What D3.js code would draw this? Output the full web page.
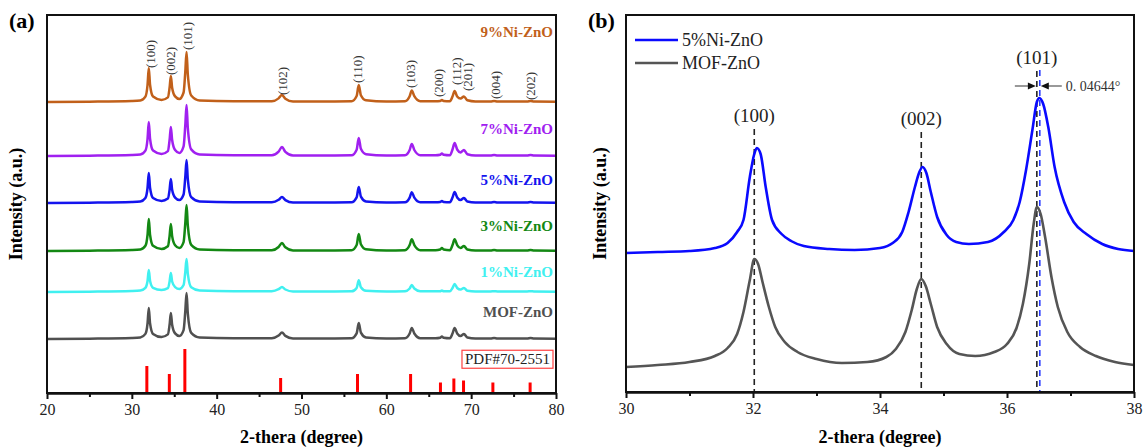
<!DOCTYPE html>
<html>
<head>
<meta charset="utf-8">
<script src="https://cdn.jsdelivr.net/npm/d3@7"></script>
<style>
  body { margin: 0; background: #fff; }
  svg { display: block; }
</style>
</head>
<body>
<div id="chart"></div>
<script>
/* ---------- data ---------- */

// Panel (a): 2-theta grid shared by every pattern
const thetaA = [20, 25, 30, 31.0, 31.6, 31.85, 32.0, 32.15, 32.5, 33.5,
  34.25, 34.45, 34.6, 34.75, 35.1, 35.6, 36.1, 36.3, 36.45, 36.6, 37.0, 38,
  42, 46.5, 47.3, 47.7, 48.1, 49, 53, 55.9, 56.5, 56.75, 57.0, 57.6, 60,
  62.2, 62.75, 63.0, 63.3, 64, 65.8, 66.35, 66.55, 66.75, 67.5, 67.8, 68.05,
  68.35, 68.75, 69.15, 69.55, 70.5, 72.3, 72.7, 73.1, 76.6, 77.0, 77.4, 80];

const seriesNamesA = ['9%Ni-ZnO', '7%Ni-ZnO', '5%Ni-ZnO', '3%Ni-ZnO', '1%Ni-ZnO', 'MOF-ZnO'];
// vertical stacking offset of each pattern (a.u.)
const offsetA = [291, 237, 190, 142, 101, 54];

const int9 = [0, 0.3, 1, 1.5, 5.4, 17, 34, 17, 5.4, 2, 4.6, 14.3, 26, 14.3, 5.6, 3,
  9.5, 30, 50, 27.5, 6.5, 1.5, 0.8, 0.8, 3.6, 7, 3.3, 0.5, 0.5, 0.7, 6, 17, 6.8, 1.7,
  0.5, 0.8, 5.8, 11.6, 5.8, 0.8, 0.8, 1, 2, 1, 0.8, 5.5, 11, 5.5, 3.4, 5.6, 1.7,
  0.5, 0.5, 1, 0.5, 0.5, 1, 0.5, 0.3];
const int7 = [0, 0.3, 1, 1.5, 5.4, 17, 34, 17, 5.4, 2, 4.9, 16, 29, 16, 5.9, 3,
  9.7, 30.6, 51, 28, 6.6, 1.5, 0.8, 0.8, 4.4, 9, 4.1, 0.5, 0.5, 0.7, 6.3, 18, 7.2, 1.8,
  0.5, 0.8, 6, 12, 6, 0.8, 0.8, 1.3, 2.5, 1.3, 0.8, 6.5, 13, 6.5, 3.6, 6, 1.8,
  0.5, 0.5, 1, 0.5, 0.5, 1, 0.5, 0.3];
const int5 = [0, 0.3, 1, 1.5, 5, 15, 30, 15, 5, 2, 4.4, 13.2, 24, 13.2, 5.4, 3,
  8.5, 25.8, 43, 23.7, 5.8, 1.5, 0.8, 0.8, 3.2, 6, 2.9, 0.5, 0.5, 0.7, 5.6, 16, 6.4, 1.6,
  0.5, 0.8, 5.4, 10.7, 5.4, 0.8, 0.8, 1, 2, 1, 0.8, 5.5, 11, 5.5, 3, 5, 1.5,
  0.5, 0.5, 1, 0.5, 0.5, 1, 0.5, 0.3];
const int3 = [0, 0.3, 1, 1.5, 5.2, 16, 32, 16, 5.2, 2, 4.7, 14.9, 27, 14.9, 5.7, 3,
  8.9, 27.6, 46, 25.3, 6.1, 1.5, 0.8, 0.8, 4, 8, 3.7, 0.5, 0.5, 0.7, 6, 17, 6.8, 1.7,
  0.5, 0.8, 5.9, 11.7, 5.9, 0.8, 0.8, 1.5, 3, 1.5, 0.8, 5.9, 11.7, 5.9, 3, 5, 1.5,
  0.5, 0.5, 1, 0.5, 0.5, 1, 0.5, 0.3];
const int1 = [0, 0.3, 1, 1.5, 4.2, 11, 22, 11, 4.2, 2, 3.9, 10.5, 19, 10.5, 4.9, 3,
  7, 19.8, 33, 18.2, 4.8, 1.5, 0.8, 0.8, 2.8, 5, 2.5, 0.5, 0.5, 0.7, 4.1, 11.7, 4.7, 1.2,
  0.5, 0.8, 3.5, 7, 3.5, 0.8, 0.8, 0.8, 1.5, 0.8, 0.8, 4, 8, 4, 2.4, 4, 1.2,
  0.5, 0.5, 0.8, 0.5, 0.5, 0.8, 0.5, 0.3];
const intMOF = [0, 0.3, 1, 1.5, 5.1, 15.5, 31, 15.5, 5.1, 2, 4.6, 14.3, 26, 14.3, 5.6, 3,
  8.9, 27.6, 46, 25.3, 6.1, 1.5, 0.8, 0.8, 3.4, 6.5, 3.1, 0.5, 0.5, 0.7, 5.6, 16, 6.4, 1.6,
  0.5, 0.8, 5.5, 11, 5.5, 0.8, 0.8, 1.3, 2.5, 1.3, 0.8, 5.5, 11, 5.5, 3, 5, 1.5,
  0.5, 0.5, 1, 0.5, 0.5, 1, 0.5, 0.3];
const intensitiesA = [int9, int7, int5, int3, int1, intMOF];

// standard card PDF#70-2551
const pdfPos = [31.77, 34.42, 36.25, 47.54, 56.6, 62.86, 66.38, 67.96, 69.1, 72.56, 76.95];
const pdfInt = [27, 19, 44, 15, 19, 19, 10.5, 14.5, 12.5, 10.5, 10.5];

// hkl labels above the top pattern: label, 2-theta, bottom of text (a.u.)
const hklA = ['(100)', '(002)', '(101)', '(102)', '(110)', '(103)', '(200)', '(112)', '(201)', '(004)', '(202)'];
const hklPosA = [32.2, 34.55, 36.6, 47.75, 56.65, 62.85, 66.2, 68.3, 69.6, 72.9, 77.0];
const hklLevelA = [325, 318, 343, 298, 310, 305, 296, 308, 302, 294, 293];

const ticksA = [20, 30, 40, 50, 60, 70, 80];
const minorTicksA = [25, 35, 45, 55, 65, 75];

// Panel (b): zoom on the three main reflections
const thetaNi = [30.0, 30.5, 31.0, 31.4, 31.6, 31.75, 31.85, 31.95, 32.02, 32.06, 32.12, 32.2,
  32.3, 32.45, 32.6, 32.8, 33.2, 33.6, 34.0, 34.2, 34.35, 34.45, 34.55, 34.62, 34.67, 34.73,
  34.8, 34.9, 35.05, 35.2, 35.4, 35.7, 35.95, 36.1, 36.2, 36.3, 36.4, 36.47, 36.51, 36.57,
  36.65, 36.75, 36.9, 37.05, 37.25, 37.5, 37.75, 38.0];
const intNi = [139, 140, 141, 144, 149, 160, 172, 215, 238, 244, 238, 205, 172, 158, 151,
  146, 143, 142, 144, 149, 160, 180, 205, 220, 225, 219, 200, 175, 157, 150, 148, 150, 160,
  172, 190, 222, 262, 290, 294, 288, 265, 225, 190, 170, 158, 148, 143, 141];

const thetaMOF = [30.0, 30.5, 31.0, 31.4, 31.6, 31.75, 31.85, 31.95, 32.02, 32.08, 32.15, 32.25,
  32.35, 32.5, 32.7, 33.0, 33.4, 33.8, 34.1, 34.25, 34.4, 34.5, 34.58, 34.65, 34.72, 34.8,
  34.9, 35.05, 35.25, 35.5, 35.8, 36.0, 36.15, 36.25, 36.35, 36.42, 36.47, 36.53, 36.6, 36.7,
  36.8, 36.95, 37.15, 37.4, 37.7, 38.0];
const intMOFb = [25, 27, 30, 36, 44, 58, 80, 112, 133, 128, 110, 85, 65, 50, 40, 33, 29, 30,
  35, 43, 60, 82, 103, 113, 106, 88, 65, 48, 38, 36, 40, 48, 64, 88, 128, 168, 185, 178, 155,
  115, 85, 60, 45, 36, 30, 27];

const seriesNamesB = ['5%Ni-ZnO', 'MOF-ZnO'];
const hklB = ['(100)', '(002)', '(101)'];
const peakMOF = [32.02, 34.65, 36.47];
const hklLevelB = [277, 274, 335];
const shift101 = 0.04644;

const ticksB = [30, 32, 34, 36, 38];
const minorTicksB = [31, 33, 35, 37];

/* ---------- layout ---------- */
const W = 1143, H = 448;
const SERIF = '"Liberation Serif", "Times New Roman", serif';
const colorsA = ['#c1601a', '#a020f0', '#1414ee', '#138813', '#40f0f0', '#505050'];
const colorsB = ['#0a0aff', '#555555'];

const svg = d3.select('#chart').append('svg')
  .attr('width', W)
  .attr('height', H)
  .style('font-family', SERIF);

/* Draws the frame and bottom axis of one panel
*/
function drawAxes(g, x, box, major, minor) {
  g.append('rect')
    .attr('x', box.left).attr('y', box.top)
    .attr('width', box.right - box.left).attr('height', box.bottom - box.top)
    .attr('fill', 'none').attr('stroke', '#111').attr('stroke-width', 2);

  const ax = g.append('g')
    .attr('transform', `translate(0,${box.bottom})`)
    .call(d3.axisBottom(x).tickValues(major).tickSize(6).tickSizeOuter(0).tickPadding(5));
  ax.select('.domain').attr('stroke', '#111').attr('stroke-width', 2.5);
  ax.selectAll('.tick line').attr('stroke', '#111').attr('stroke-width', 2);
  ax.selectAll('.tick text')
    .attr('fill', '#222')
    .style('font-family', SERIF)
    .style('font-size', '16px');

  const mx = g.append('g')
    .attr('transform', `translate(0,${box.bottom})`)
    .call(d3.axisBottom(x).tickValues(minor).tickSize(4).tickSizeOuter(0).tickFormat(''));
  mx.select('.domain').remove();
  mx.selectAll('.tick line').attr('stroke', '#111').attr('stroke-width', 2);
}

/* Axis titles and panel letter
*/
function drawTitles(box, letter, yTitleX) {
  svg.append('text')
    .attr('x', (box.left + box.right) / 2).attr('y', 443)
    .attr('text-anchor', 'middle')
    .style('font-weight', 'bold').style('font-size', '18px')
    .text('2-thera (degree)');

  svg.append('text')
    .attr('transform', `translate(${yTitleX},${(box.top + box.bottom) / 2}) rotate(-90)`)
    .attr('text-anchor', 'middle')
    .style('font-weight', 'bold').style('font-size', '18px')
    .text('Intensity (a.u.)');

  svg.append('text')
    .attr('x', box.left - 38).attr('y', 28)
    .style('font-weight', 'bold').style('font-size', '22px')
    .text(letter);
}

/* ---------- panel (a) ---------- */
const boxA = {left: 47, right: 556, top: 15, bottom: 393};
const xA = d3.scaleLinear().domain([20, 80]).range([boxA.left, boxA.right]);
const yA = d3.scaleLinear().domain([0, 378]).range([boxA.bottom, boxA.top]);
const gA = svg.append('g').attr('class', 'panel-a');

const lineA = d3.line()
  .x(d => xA(d[0]))
  .y(d => yA(d[1]))
  .curve(d3.curveMonotoneX);

intensitiesA.forEach((vals, i) => {
  const pts = d3.zip(thetaA, vals).map(([t, v]) => [t, v + offsetA[i]]);
  gA.append('path')
    .attr('d', lineA(pts))
    .attr('fill', 'none')
    .attr('stroke', colorsA[i])
    .attr('stroke-width', 2.5)
    .attr('stroke-linejoin', 'round');
});

// series names, right aligned inside the frame
const labelLift = [70, 27, 23, 25, 20, 27];
seriesNamesA.forEach((name, i) => {
  gA.append('text')
    .attr('x', boxA.right - 3)
    .attr('y', yA(offsetA[i] + labelLift[i]))
    .attr('dy', '0.35em')
    .attr('text-anchor', 'end')
    .attr('fill', colorsA[i])
    .style('font-weight', 'bold')
    .style('font-size', '15px')
    .text(name);
});

// hkl labels, rotated
hklA.forEach((lab, i) => {
  gA.append('text')
    .attr('transform', `translate(${xA(hklPosA[i])},${yA(hklLevelA[i])}) rotate(-90)`)
    .attr('dominant-baseline', 'central')
    .attr('fill', '#333')
    .style('font-size', '13px')
    .text(lab);
});

// reference card sticks
gA.selectAll('.stick')
  .data(d3.zip(pdfPos, pdfInt))
  .join('line')
  .attr('class', 'stick')
  .attr('x1', d => xA(d[0])).attr('x2', d => xA(d[0]))
  .attr('y1', yA(0)).attr('y2', d => yA(d[1]))
  .attr('stroke', '#ff0000')
  .attr('stroke-width', 3);

const pdfLabel = gA.append('text')
  .attr('x', boxA.right - 6).attr('y', yA(34))
  .attr('dy', '0.35em')
  .attr('text-anchor', 'end')
  .attr('fill', '#222')
  .style('font-size', '15px')
  .text('PDF#70-2551');
const bb = pdfLabel.node().getBBox();
gA.insert('rect', 'text')
  .attr('x', bb.x - 3).attr('y', bb.y - 1)
  .attr('width', bb.width + 6).attr('height', bb.height + 2)
  .attr('fill', '#fff').attr('stroke', '#ff4040').attr('stroke-width', 1.2);

drawAxes(gA, xA, boxA, ticksA, minorTicksA);
drawTitles(boxA, '(a)', 22);

/* ---------- panel (b) ---------- */
const boxB = {left: 626, right: 1134, top: 15, bottom: 392};
const xB = d3.scaleLinear().domain([30, 38]).range([boxB.left, boxB.right]);
const yB = d3.scaleLinear().domain([0, 377]).range([boxB.bottom, boxB.top]);
const gB = svg.append('g').attr('class', 'panel-b');

const lineB = d3.line()
  .x(d => xB(d[0]))
  .y(d => yB(d[1]))
  .curve(d3.curveMonotoneX);

// peak reference lines
peakMOF.forEach((p, i) => {
  gB.append('line')
    .attr('x1', xB(p)).attr('x2', xB(p))
    .attr('y1', yB(hklLevelB[i]) + 14).attr('y2', boxB.bottom)
    .attr('stroke', '#222').attr('stroke-width', 1.6)
    .attr('stroke-dasharray', '6,4');
  gB.append('text')
    .attr('x', xB(p)).attr('y', yB(hklLevelB[i]))
    .attr('dy', '0.35em')
    .attr('text-anchor', 'middle')
    .attr('fill', '#222')
    .style('font-size', '19px')
    .text(hklB[i]);
});
const xShift = xB(peakMOF[2] + shift101);
gB.append('line')
  .attr('x1', xShift).attr('x2', xShift)
  .attr('y1', yB(hklLevelB[2]) + 13).attr('y2', boxB.bottom)
  .attr('stroke', '#2a3cff').attr('stroke-width', 1.6)
  .attr('stroke-dasharray', '6,4');

[[thetaNi, intNi], [thetaMOF, intMOFb]].forEach(([t, v], i) => {
  gB.append('path')
    .attr('d', lineB(d3.zip(t, v)))
    .attr('fill', 'none')
    .attr('stroke', colorsB[i])
    .attr('stroke-width', 2.6)
    .attr('stroke-linejoin', 'round');
});

// shift annotation: two arrows pointing at the pair of dashed lines
const arrowY = yB(306);
const xBlack = xB(peakMOF[2]);
gB.append('line')
  .attr('x1', xBlack - 22).attr('x2', xBlack - 6)
  .attr('y1', arrowY).attr('y2', arrowY)
  .attr('stroke', '#555').attr('stroke-width', 1.2);
gB.append('path')
  .attr('d', `M${xBlack - 1},${arrowY} l-8,-3.5 l0,7 z`)
  .attr('fill', '#111');
gB.append('line')
  .attr('x1', xShift + 6).attr('x2', xShift + 22)
  .attr('y1', arrowY).attr('y2', arrowY)
  .attr('stroke', '#555').attr('stroke-width', 1.2);
gB.append('path')
  .attr('d', `M${xShift + 1},${arrowY} l8,-3.5 l0,7 z`)
  .attr('fill', '#111');
gB.append('text')
  .attr('x', xShift + 26).attr('y', arrowY)
  .attr('dy', '0.35em')
  .attr('fill', '#333')
  .style('font-size', '14px')
  .text('0. ' + String(shift101).slice(2) + '°');

// legend
seriesNamesB.forEach((name, i) => {
  const ly = 40 + i * 23;
  gB.append('line')
    .attr('x1', boxB.left + 9).attr('x2', boxB.left + 52)
    .attr('y1', ly).attr('y2', ly)
    .attr('stroke', colorsB[i]).attr('stroke-width', 2.6);
  gB.append('text')
    .attr('x', boxB.left + 56).attr('y', ly)
    .attr('dy', '0.35em')
    .attr('fill', '#222')
    .style('font-size', '18px')
    .text(name);
});

drawAxes(gB, xB, boxB, ticksB, minorTicksB);
drawTitles(boxB, '(b)', 606);
</script>
</body>
</html>
